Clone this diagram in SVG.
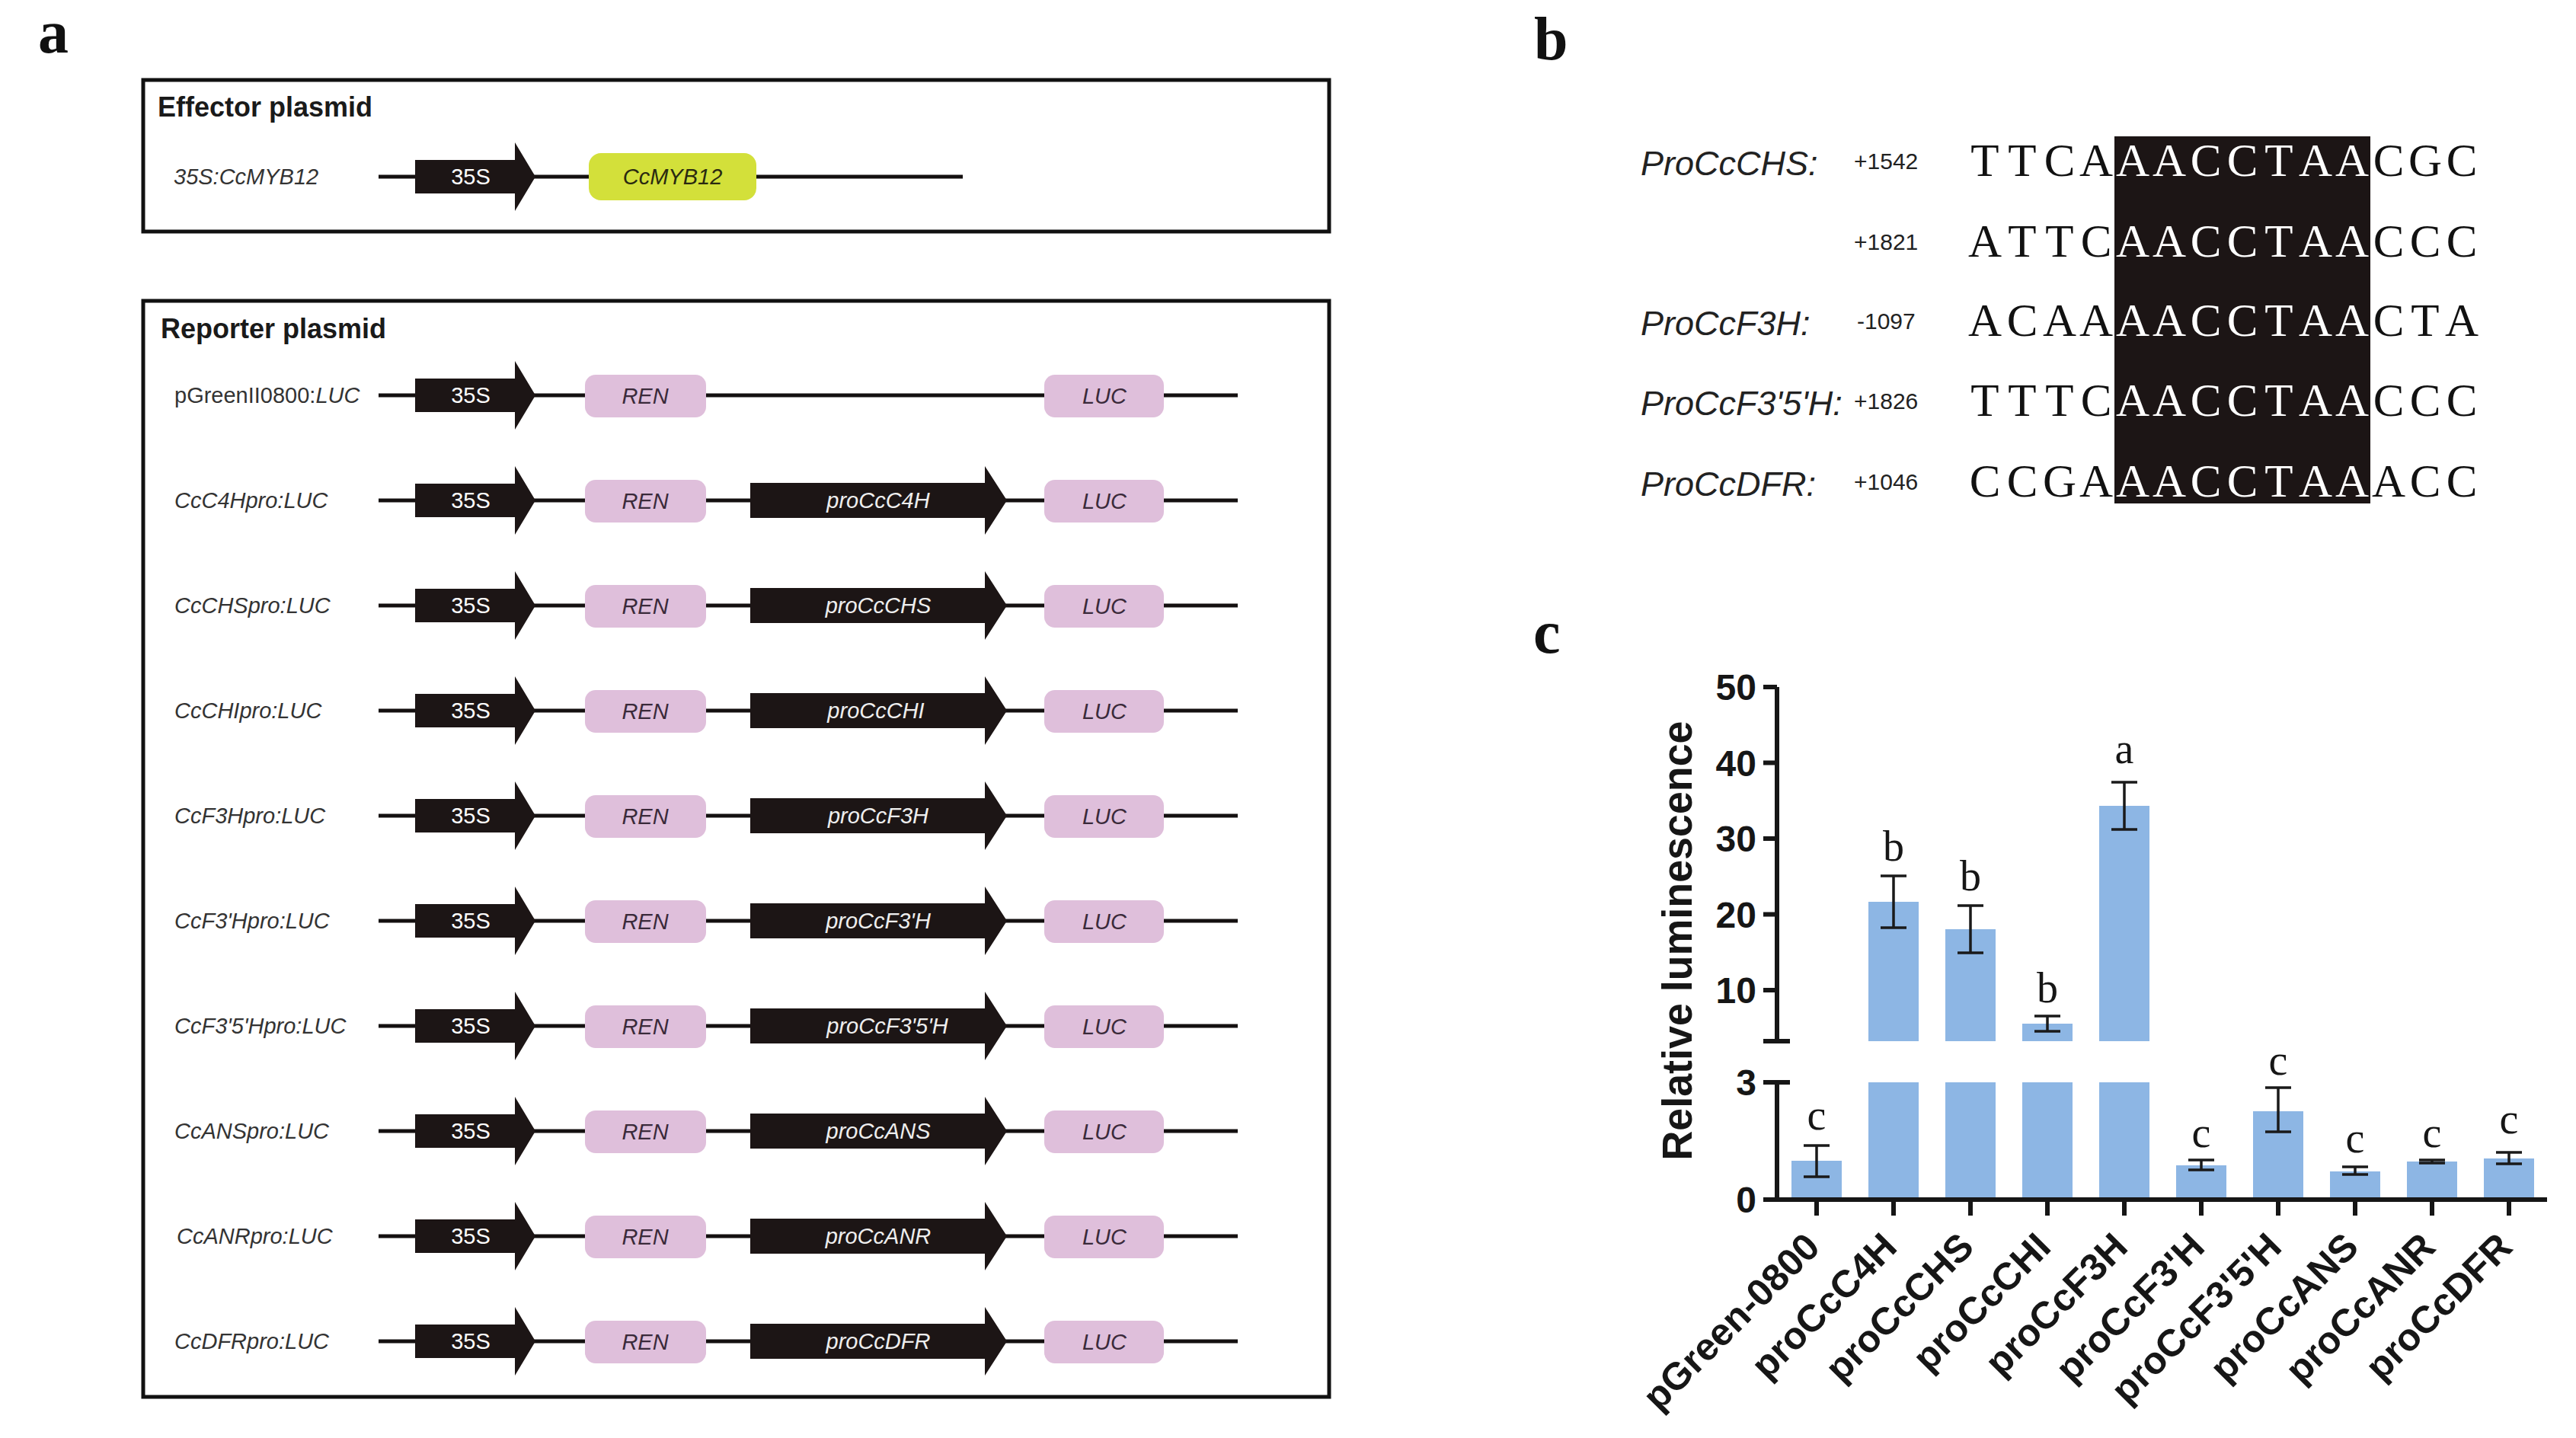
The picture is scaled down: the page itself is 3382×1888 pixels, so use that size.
<svg xmlns="http://www.w3.org/2000/svg" width="3382" height="1888" viewBox="0 0 3382 1888">
<style>
.bg{fill:#ffffff}
.frame{fill:none;stroke:#111;stroke-width:5}
.title{font-family:"Liberation Sans",Arial,sans-serif;font-weight:bold;font-size:36px;fill:#1a1a1a}
.panel{font-family:"Liberation Serif","Times New Roman",serif;font-weight:bold;font-size:80px;fill:#111}
.rowlab{font-family:"Liberation Sans",Arial,sans-serif;font-style:italic;font-size:29px;fill:#333}
.up{font-style:normal}
.dna{stroke:#141010;stroke-width:5;fill:none}
.arrow{fill:#1c1515}
.arrtxt{font-family:"Liberation Sans",Arial,sans-serif;font-size:29px;fill:#fff;text-anchor:middle}
.arrtxt-i{font-family:"Liberation Sans",Arial,sans-serif;font-size:29px;font-style:italic;fill:#eee;text-anchor:middle}
.pink{fill:#dfbfdb}
.green{fill:#d3e03a}
.boxtxt{font-family:"Liberation Sans",Arial,sans-serif;font-style:italic;font-size:29px;fill:#3a2a3a;text-anchor:middle}
.name{font-family:"Liberation Sans",Arial,sans-serif;font-style:italic;font-size:45px;fill:#222}
.pos{font-family:"Liberation Sans",Arial,sans-serif;font-size:30px;fill:#222}
.seq{font-family:"Liberation Serif","Times New Roman",serif;font-size:61px;fill:#111;text-anchor:middle}
.seqw{fill:#fff}
.bar{fill:#8db6e4}
.axis{stroke:#161616;stroke-width:6;fill:none}
.err{stroke:#1a1a1a;stroke-width:3.5;fill:none}
.tick{font-family:"Liberation Sans",Arial,sans-serif;font-weight:bold;font-size:48px;fill:#161616;text-anchor:end}
.ytitle{font-family:"Liberation Sans",Arial,sans-serif;font-weight:bold;font-size:55px;fill:#161616;text-anchor:middle}
.xlab{font-family:"Liberation Sans",Arial,sans-serif;font-weight:bold;font-size:50px;fill:#161616;text-anchor:end}
.sig{font-family:"Liberation Serif","Times New Roman",serif;font-size:56px;fill:#161616;text-anchor:middle}
</style>
<defs>
<g id="p35S">
<polygon class="arrow" points="545,-22 676,-22 676,-45 703,0 676,45 676,22 545,22"/>
<text class="arrtxt" x="618" y="10">35S</text>
</g>
<g id="pREN">
<rect class="pink" x="768" y="-27" width="159" height="56" rx="14"/>
<text class="boxtxt" x="847" y="11">REN</text>
</g>
<g id="pLUC">
<rect class="pink" x="1371" y="-27" width="157" height="56" rx="14"/>
<text class="boxtxt" x="1450" y="11">LUC</text>
</g>
<polygon id="proArrow" class="arrow" points="985,-23 1293,-23 1293,-45 1322,0 1293,45 1293,23 985,23"/>
</defs>
<rect class="bg" x="0" y="0" width="3382" height="1888"/>

<!-- Panel a -->
<g id="panel-a">
<text class="panel" x="50" y="69">a</text>
<g id="effector">
<rect class="frame" x="188" y="105" width="1557" height="199"/>
<text class="title" x="207" y="153">Effector plasmid</text>
<g transform="translate(0,232)">
<line class="dna" x1="497" y1="0" x2="1264" y2="0"/>
<use href="#p35S"/>
<rect class="green" x="773" y="-31" width="220" height="62" rx="16"/>
<text class="boxtxt" x="883" y="10" style="fill:#2a2a10">CcMYB12</text>
<text class="rowlab" x="228" y="10">35S:CcMYB12</text>
</g>
</g>
<g id="reporter">
<rect class="frame" x="188" y="395" width="1557" height="1439"/>
<text class="title" x="211" y="444">Reporter plasmid</text>
<g id="r1" transform="translate(0,519)">
<line class="dna" x1="497" y1="0" x2="1625" y2="0"/>
<use href="#p35S"/><use href="#pREN"/><use href="#pLUC"/>
<text class="rowlab" x="229" y="10"><tspan class="up">pGreenII0800:</tspan>LUC</text>
</g>
<g id="r2" transform="translate(0,657)">
<line class="dna" x1="497" y1="0" x2="1625" y2="0"/>
<use href="#p35S"/><use href="#pREN"/><use href="#proArrow"/><use href="#pLUC"/>
<text class="arrtxt-i" x="1153" y="10">proCcC4H</text>
<text class="rowlab" x="229" y="10">CcC4Hpro:LUC</text>
</g>
<g id="r3" transform="translate(0,795)">
<line class="dna" x1="497" y1="0" x2="1625" y2="0"/>
<use href="#p35S"/><use href="#pREN"/><use href="#proArrow"/><use href="#pLUC"/>
<text class="arrtxt-i" x="1153" y="10">proCcCHS</text>
<text class="rowlab" x="229" y="10">CcCHSpro:LUC</text>
</g>
<g id="r4" transform="translate(0,933)">
<line class="dna" x1="497" y1="0" x2="1625" y2="0"/>
<use href="#p35S"/><use href="#pREN"/><use href="#proArrow"/><use href="#pLUC"/>
<text class="arrtxt-i" x="1150" y="10">proCcCHI</text>
<text class="rowlab" x="229" y="10">CcCHIpro:LUC</text>
</g>
<g id="r5" transform="translate(0,1071)">
<line class="dna" x1="497" y1="0" x2="1625" y2="0"/>
<use href="#p35S"/><use href="#pREN"/><use href="#proArrow"/><use href="#pLUC"/>
<text class="arrtxt-i" x="1153" y="10">proCcF3H</text>
<text class="rowlab" x="229" y="10">CcF3Hpro:LUC</text>
</g>
<g id="r6" transform="translate(0,1209)">
<line class="dna" x1="497" y1="0" x2="1625" y2="0"/>
<use href="#p35S"/><use href="#pREN"/><use href="#proArrow"/><use href="#pLUC"/>
<text class="arrtxt-i" x="1153" y="10">proCcF3'H</text>
<text class="rowlab" x="229" y="10">CcF3'Hpro:LUC</text>
</g>
<g id="r7" transform="translate(0,1347)">
<line class="dna" x1="497" y1="0" x2="1625" y2="0"/>
<use href="#p35S"/><use href="#pREN"/><use href="#proArrow"/><use href="#pLUC"/>
<text class="arrtxt-i" x="1165" y="10">proCcF3'5'H</text>
<text class="rowlab" x="229" y="10">CcF3'5'Hpro:LUC</text>
</g>
<g id="r8" transform="translate(0,1485)">
<line class="dna" x1="497" y1="0" x2="1625" y2="0"/>
<use href="#p35S"/><use href="#pREN"/><use href="#proArrow"/><use href="#pLUC"/>
<text class="arrtxt-i" x="1153" y="10">proCcANS</text>
<text class="rowlab" x="229" y="10">CcANSpro:LUC</text>
</g>
<g id="r9" transform="translate(0,1623)">
<line class="dna" x1="497" y1="0" x2="1625" y2="0"/>
<use href="#p35S"/><use href="#pREN"/><use href="#proArrow"/><use href="#pLUC"/>
<text class="arrtxt-i" x="1153" y="10">proCcANR</text>
<text class="rowlab" x="232" y="10">CcANRpro:LUC</text>
</g>
<g id="r10" transform="translate(0,1761)">
<line class="dna" x1="497" y1="0" x2="1625" y2="0"/>
<use href="#p35S"/><use href="#pREN"/><use href="#proArrow"/><use href="#pLUC"/>
<text class="arrtxt-i" x="1153" y="10">proCcDFR</text>
<text class="rowlab" x="229" y="10">CcDFRpro:LUC</text>
</g>
</g>
</g>

<!-- Panel b -->
<g id="panel-b">
<text class="panel" x="2014" y="78">b</text>
<rect x="2776" y="179" width="336" height="482" fill="#1c1515"/>
<g id="b1">
<text class="name" x="2154" y="230">ProCcCHS:</text>
<text class="pos" x="2434" y="222">+1542</text>
<text class="seq" y="231"><tspan x="2606">T</tspan><tspan x="2655">T</tspan><tspan x="2704">C</tspan><tspan x="2752">A</tspan><tspan class="seqw" x="2800">A</tspan><tspan class="seqw" x="2848">A</tspan><tspan class="seqw" x="2896">C</tspan><tspan class="seqw" x="2944">C</tspan><tspan class="seqw" x="2992">T</tspan><tspan class="seqw" x="3040">A</tspan><tspan class="seqw" x="3088">A</tspan><tspan x="3136">C</tspan><tspan x="3184">G</tspan><tspan x="3232">C</tspan></text>
</g>
<g id="b2">
<text class="pos" x="2434" y="328">+1821</text>
<text class="seq" y="337"><tspan x="2606">A</tspan><tspan x="2655">T</tspan><tspan x="2704">T</tspan><tspan x="2752">C</tspan><tspan class="seqw" x="2800">A</tspan><tspan class="seqw" x="2848">A</tspan><tspan class="seqw" x="2896">C</tspan><tspan class="seqw" x="2944">C</tspan><tspan class="seqw" x="2992">T</tspan><tspan class="seqw" x="3040">A</tspan><tspan class="seqw" x="3088">A</tspan><tspan x="3136">C</tspan><tspan x="3184">C</tspan><tspan x="3232">C</tspan></text>
</g>
<g id="b3">
<text class="name" x="2154" y="440">ProCcF3H:</text>
<text class="pos" x="2438" y="432">-1097</text>
<text class="seq" y="441"><tspan x="2606">A</tspan><tspan x="2655">C</tspan><tspan x="2704">A</tspan><tspan x="2752">A</tspan><tspan class="seqw" x="2800">A</tspan><tspan class="seqw" x="2848">A</tspan><tspan class="seqw" x="2896">C</tspan><tspan class="seqw" x="2944">C</tspan><tspan class="seqw" x="2992">T</tspan><tspan class="seqw" x="3040">A</tspan><tspan class="seqw" x="3088">A</tspan><tspan x="3136">C</tspan><tspan x="3184">T</tspan><tspan x="3232">A</tspan></text>
</g>
<g id="b4">
<text class="name" x="2154" y="545">ProCcF3'5'H:</text>
<text class="pos" x="2434" y="537">+1826</text>
<text class="seq" y="546"><tspan x="2606">T</tspan><tspan x="2655">T</tspan><tspan x="2704">T</tspan><tspan x="2752">C</tspan><tspan class="seqw" x="2800">A</tspan><tspan class="seqw" x="2848">A</tspan><tspan class="seqw" x="2896">C</tspan><tspan class="seqw" x="2944">C</tspan><tspan class="seqw" x="2992">T</tspan><tspan class="seqw" x="3040">A</tspan><tspan class="seqw" x="3088">A</tspan><tspan x="3136">C</tspan><tspan x="3184">C</tspan><tspan x="3232">C</tspan></text>
</g>
<g id="b5">
<text class="name" x="2154" y="651">ProCcDFR:</text>
<text class="pos" x="2434" y="643">+1046</text>
<text class="seq" y="652"><tspan x="2606">C</tspan><tspan x="2655">C</tspan><tspan x="2704">G</tspan><tspan x="2752">A</tspan><tspan class="seqw" x="2800">A</tspan><tspan class="seqw" x="2848">A</tspan><tspan class="seqw" x="2896">C</tspan><tspan class="seqw" x="2944">C</tspan><tspan class="seqw" x="2992">T</tspan><tspan class="seqw" x="3040">A</tspan><tspan class="seqw" x="3088">A</tspan><tspan x="3136">A</tspan><tspan x="3184">C</tspan><tspan x="3232">C</tspan></text>
</g>
</g>

<!-- Panel c -->
<g id="panel-c">
<text class="panel" x="2013" y="857">c</text>
<g id="bars">
<rect class="bar" x="2352" y="1524" width="66" height="51"/>
<rect class="bar" x="2453" y="1184" width="66" height="183"/><rect class="bar" x="2453" y="1421" width="66" height="154"/>
<rect class="bar" x="2554" y="1220" width="66" height="147"/><rect class="bar" x="2554" y="1421" width="66" height="154"/>
<rect class="bar" x="2655" y="1344" width="66" height="23"/><rect class="bar" x="2655" y="1421" width="66" height="154"/>
<rect class="bar" x="2756" y="1058" width="66" height="309"/><rect class="bar" x="2756" y="1421" width="66" height="154"/>
<rect class="bar" x="2857" y="1530" width="66" height="45"/>
<rect class="bar" x="2958" y="1459" width="66" height="116"/>
<rect class="bar" x="3059" y="1538" width="66" height="37"/>
<rect class="bar" x="3160" y="1525" width="66" height="50"/>
<rect class="bar" x="3261" y="1521" width="66" height="54"/>
</g>
<g id="errors">
<path class="err" d="M2385,1504V1545M2368,1504H2402M2368,1545H2402"/>
<path class="err" d="M2486,1150V1218M2469,1150H2503M2469,1218H2503"/>
<path class="err" d="M2587,1189V1251M2570,1189H2604M2570,1251H2604"/>
<path class="err" d="M2688,1334V1354M2671,1334H2705M2671,1354H2705"/>
<path class="err" d="M2789,1027V1089M2772,1027H2806M2772,1089H2806"/>
<path class="err" d="M2890,1523V1536M2873,1523H2907M2873,1536H2907"/>
<path class="err" d="M2991,1428V1486M2974,1428H3008M2974,1486H3008"/>
<path class="err" d="M3092,1532V1542M3075,1532H3109M3075,1542H3109"/>
<path class="err" d="M3193,1523V1527M3176,1523H3210M3176,1527H3210"/>
<path class="err" d="M3294,1513V1528M3277,1513H3311M3277,1528H3311"/>
</g>
<g id="axes">
<path class="axis" d="M2333,902V1367M2333,1421V1575"/>
<path class="axis" d="M2315,902H2333M2315,1001.5H2333M2315,1101H2333M2315,1200.5H2333M2315,1300H2333M2315,1367H2350M2315,1421H2350"/>
<path class="axis" d="M2315,1575H3344"/>
<path class="axis" d="M2385,1575V1596M2486,1575V1596M2587,1575V1596M2688,1575V1596M2789,1575V1596M2890,1575V1596M2991,1575V1596M3092,1575V1596M3193,1575V1596M3294,1575V1596"/>
<text class="tick" x="2306" y="919">50</text>
<text class="tick" x="2306" y="1019">40</text>
<text class="tick" x="2306" y="1118">30</text>
<text class="tick" x="2306" y="1218">20</text>
<text class="tick" x="2306" y="1317">10</text>
<text class="tick" x="2306" y="1438">3</text>
<text class="tick" x="2306" y="1592">0</text>
<text class="ytitle" transform="translate(2221,1235) rotate(-90)" textLength="577" lengthAdjust="spacingAndGlyphs">Relative luminescence</text>
</g>
<g id="sig">
<text class="sig" x="2385" y="1483">c</text>
<text class="sig" x="2486" y="1130">b</text>
<text class="sig" x="2587" y="1169">b</text>
<text class="sig" x="2688" y="1316">b</text>
<text class="sig" x="2789" y="1002">a</text>
<text class="sig" x="2890" y="1506">c</text>
<text class="sig" x="2991" y="1411">c</text>
<text class="sig" x="3092" y="1513">c</text>
<text class="sig" x="3193" y="1506">c</text>
<text class="sig" x="3294" y="1488">c</text>
</g>
<g id="xlabels">
<text class="xlab" transform="translate(2392,1640) rotate(-45)">pGreen-0800</text>
<text class="xlab" transform="translate(2493,1640) rotate(-45)">proCcC4H</text>
<text class="xlab" transform="translate(2594,1640) rotate(-45)">proCcCHS</text>
<text class="xlab" transform="translate(2695,1640) rotate(-45)">proCcCHI</text>
<text class="xlab" transform="translate(2796,1640) rotate(-45)">proCcF3H</text>
<text class="xlab" transform="translate(2897,1640) rotate(-45)">proCcF3'H</text>
<text class="xlab" transform="translate(2998,1640) rotate(-45)">proCcF3'5'H</text>
<text class="xlab" transform="translate(3099,1640) rotate(-45)">proCcANS</text>
<text class="xlab" transform="translate(3200,1640) rotate(-45)">proCcANR</text>
<text class="xlab" transform="translate(3301,1640) rotate(-45)">proCcDFR</text>
</g>
</g>
</svg>
